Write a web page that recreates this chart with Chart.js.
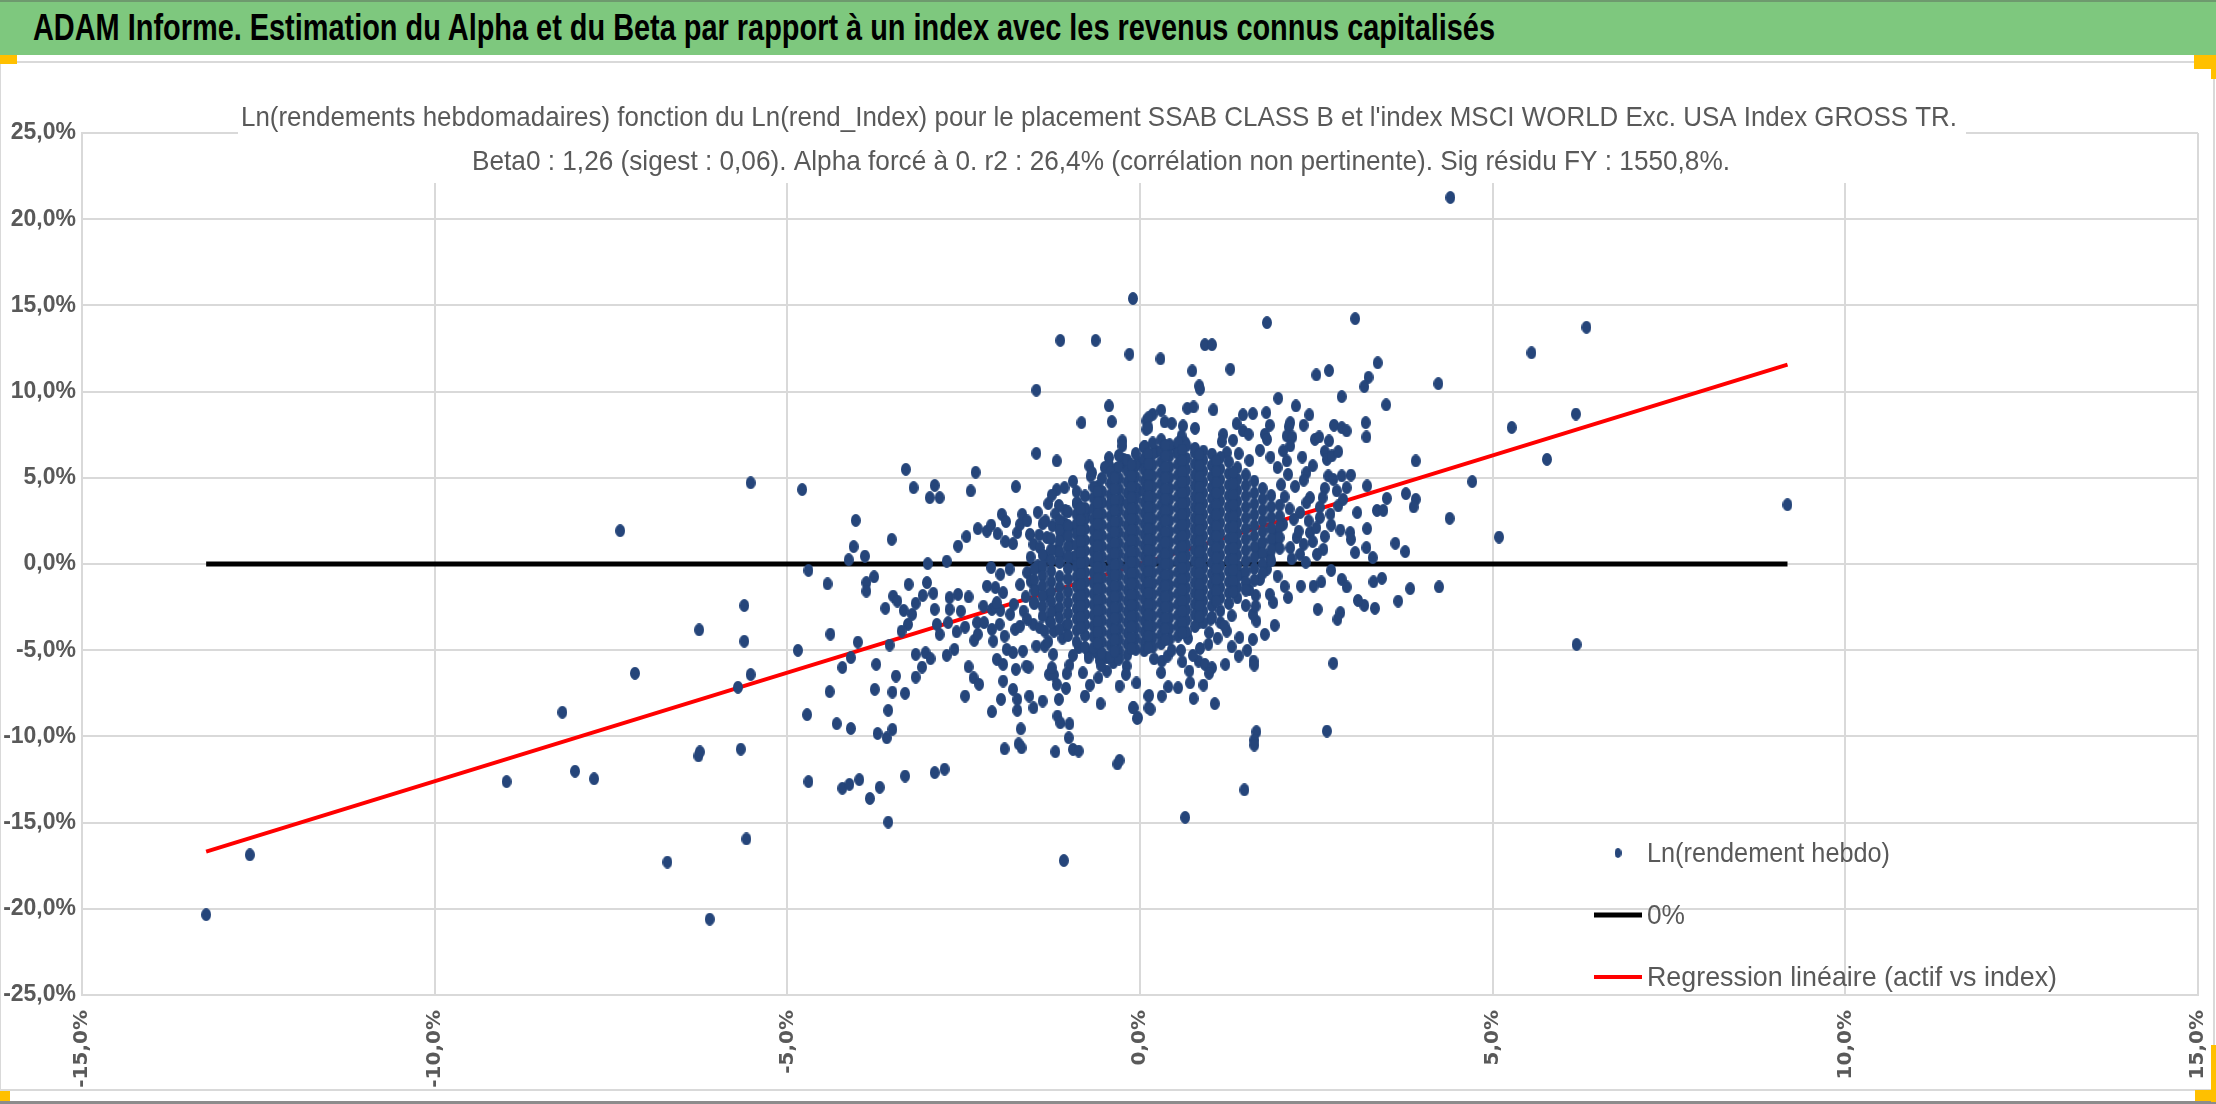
<!DOCTYPE html>
<html lang="fr">
<head>
<meta charset="utf-8">
<title>ADAM Informe - Alpha et Beta</title>
<script src="https://cdn.jsdelivr.net/npm/chart.js@4.4.1/dist/chart.umd.min.js"></script>
<style>
  html, body { margin: 0; padding: 0; background: #fff; }
  body { width: 2216px; height: 1104px; position: relative; overflow: hidden; font-family: "Liberation Sans", Arial, sans-serif; }
  #header { position: absolute; left: 0; top: 0; width: 2216px; height: 55px; background: #7ec87e; border-top: 2px solid #6e9a6e; box-sizing: border-box; white-space: nowrap; }
  #header span { position: absolute; left: 33px; top: 6px; font-weight: bold; font-size: 37px; line-height: 40px; color: #000; transform-origin: 0 50%; }
  #frame { position: absolute; left: 0; top: 61px; width: 2215px; height: 1030px; border: 2px solid #d9d9d9; border-left-width: 1px; box-sizing: border-box; }
  #chartBox { position: absolute; left: 0; top: 62px; width: 2212px; height: 1027px; }
  #bottomLine { position: absolute; left: 0; top: 1101px; width: 2216px; height: 3px; background: #8c8c8c; }
  .mark { position: absolute; background: #ffc000; }
</style>
</head>
<body>
<div id="header"><span id="headerText">ADAM Informe. Estimation du Alpha et du Beta par rapport à un index avec les revenus connus capitalisés</span></div>
<div id="frame"></div>
<div id="chartBox"><canvas id="alphaBetaChart"></canvas></div>
<div id="bottomLine"></div>
<div class="mark" style="left:0;top:55px;width:17px;height:9px"></div>
<div class="mark" style="left:2194px;top:55px;width:22px;height:14px"></div>
<div class="mark" style="left:2211px;top:55px;width:5px;height:24px"></div>
<div class="mark" style="left:0;top:1091px;width:10px;height:10px"></div>
<div class="mark" style="left:2211px;top:1045px;width:5px;height:57px"></div>
<div class="mark" style="left:2195px;top:1090px;width:21px;height:11px"></div>
<script>
// Chart texts
const chartTitleLines = [
    "Ln(rendements hebdomadaires) fonction du Ln(rend_Index) pour le placement SSAB CLASS B et l'index MSCI WORLD Exc. USA Index GROSS TR.",
    'Beta0 : 1,26 (sigest : 0,06). Alpha forcé à 0. r2 : 26,4% (corrélation non pertinente). Sig résidu FY : 1550,8%.'
];
const seriesLabels = ['Ln(rendement hebdo)', '0%', 'Regression linéaire (actif vs index)'];

// Axes (percent)
const xTicks = [-15, -10, -5, 0, 5, 10, 15];
const yTicks = [-25, -20, -15, -10, -5, 0, 5, 10, 15, 20, 25];
const beta0 = 1.26;

// Weekly log returns [index %, asset %]
const leftTail = [
    [-13.24, -20.34], [-12.62, -16.87], [-7.37, 1.93], [-8.19, -8.6], [-8.98, -12.62], [-8.01, -12.02],
    [-7.74, -12.46], [-7.16, -6.34], [-6.70, -17.29], [-6.10, -20.6], [-6.25, -3.82], [-5.61, -2.41],
    [-5.61, -4.48], [-5.52, -6.41], [-5.70, -7.15], [-5.66, -10.74], [-6.26, -11.13], [-6.24, -10.9],
    [-5.58, -15.95], [-5.52, 4.71], [-4.79, 4.32], [-4.03, 2.53], [-4.06, 1.01], [-4.13, 0.25],
    [-4.70, -0.37], [-4.43, -1.15], [-4.39, -4.07], [-4.00, -4.53], [-4.10, -5.43], [-4.85, -5.01],
    [-4.22, -6.0], [-4.40, -7.40], [-4.72, -8.74], [-4.30, -9.26], [-4.10, -9.54], [-4.70, -12.62],
    [-4.22, -13.01], [-4.12, -12.78], [-3.98, -12.51]
];
const lowerTail = [
    [-3.57, -14.97], [-3.83, -13.6], [-3.69, -12.95], [-3.33, -12.3], [-2.91, -12.1], [-2.77, -11.9],
    [-1.08, -17.2], [-0.32, -11.6], [0.64, -14.7], [1.48, -13.1]
];
const upperTail = [
    [4.40, 21.26], [-0.10, 15.4], [1.80, 14.0], [3.05, 14.23], [6.33, 13.73], [-1.13, 12.97], [-0.63, 12.97],
    [0.92, 12.72], [1.02, 12.72], [-0.15, 12.17], [0.29, 11.9], [5.55, 12.25], [0.74, 11.2], [1.28, 11.3],
    [2.5, 10.97], [2.68, 11.22], [3.37, 11.67], [3.24, 10.83]
];
const rightTail = [
    [9.18, 3.44], [6.19, -4.67], [5.77, 6.07], [5.09, 1.56], [6.18, 8.7], [5.27, 7.92]
];
const upperLeftCluster = [
    [-1.47, 10.08], [-0.44, 9.17], [-0.83, 8.2], [-0.40, 8.26], [-0.25, 7.14], [-0.25, 6.85], [0.06, 6.79],
    [0.09, 8.3], [0.09, 7.81], [-1.47, 6.42], [-1.18, 5.98], [-0.72, 5.69], [-0.68, 5.3], [-0.44, 6.17],
    [-0.44, 5.74], [-0.33, 5.55], [-0.23, 6.07], [-0.18, 5.63], [-0.09, 5.59], [-0.02, 5.88], [0.09, 5.55],
    [-3.32, 5.49], [-3.21, 4.43], [-2.91, 4.56], [-2.98, 3.85], [-2.84, 3.85], [-2.40, 4.24], [-2.33, 5.32],
    [-1.76, 4.49], [-1.18, 4.31], [-1.07, 4.43], [-0.60, 4.49], [-3.90, 0.46], [-3.52, 1.43], [-3.01, 0.02],
    [-2.74, 0.17], [-2.58, 1.04], [-2.46, 1.59], [-2.30, 2.05], [-2.17, 1.91], [-2.11, 2.26], [-2.02, 1.76],
    [-1.96, 2.88], [-1.90, 2.46], [-1.91, 1.30], [-1.80, 1.18], [-1.74, 1.82], [-1.70, 2.30], [-1.67, 2.88],
    [-1.56, 1.72], [-1.51, 1.14], [-1.43, 1.68], [-1.38, 2.34], [-1.34, 2.50], [-1.32, 1.53], [-1.24, 2.21],
    [-1.42, 0.95], [-1.35, 0.46], [-1.13, 0.46], [-1.06, 3.11], [-1.08, 2.40], [-1.03, 1.91], [-0.99, 1.14],
    [-0.92, 2.15], [-0.89, 3.56], [-0.84, 3.27], [-0.76, 2.98], [-0.61, 3.17], [-0.56, 3.71], [-0.41, 3.56],
    [-0.28, 3.66], [-0.14, 4.82], [-0.09, 4.43], [-0.02, 4.24], [-0.95, 0.37], [-1.18, 0.8], [-1.12, 1.6],
    [-1.15, 3.4], [-1.20, 2.9]
];
const upperRightCluster = [
    [0.84, 10.33], [0.85, 10.14], [1.96, 9.61], [2.21, 9.17], [2.86, 9.71], [3.18, 10.29], [3.49, 9.23],
    [4.23, 10.46], [0.30, 8.92], [0.18, 8.68], [0.12, 8.49], [0.12, 7.91], [0.35, 8.24], [0.45, 8.16],
    [0.67, 9.03], [0.76, 9.11], [1.04, 8.94], [0.61, 8.01], [0.78, 7.87], [0.59, 7.43], [0.64, 7.04],
    [0.07, 6.79], [0.23, 6.52], [0.40, 6.75], [0.52, 6.65], [0.78, 6.46], [1.46, 8.65], [1.60, 8.72],
    [1.79, 8.78], [1.37, 8.14], [1.46, 7.72], [1.54, 7.52], [1.84, 8.05], [2.13, 8.20], [2.11, 7.97],
    [2.32, 8.05], [2.40, 8.65], [2.75, 8.05], [2.86, 7.91], [2.93, 7.72], [3.20, 8.20], [3.21, 7.37],
    [1.18, 7.52], [1.16, 7.10], [1.32, 7.18], [1.23, 6.46], [1.77, 7.52], [1.80, 7.23], [2.08, 7.43],
    [2.16, 7.37], [2.13, 6.85], [2.03, 6.56], [2.08, 5.98], [2.48, 7.23], [2.54, 7.37], [2.68, 7.14],
    [2.62, 6.52], [2.65, 6.07], [2.72, 6.27], [2.81, 6.52], [3.91, 5.98], [4.71, 4.78], [4.39, 2.65],
    [3.77, 4.08], [3.50, 3.81], [3.91, 3.75], [3.88, 3.31], [3.36, 3.11], [3.45, 3.11], [3.08, 2.98],
    [3.22, 4.53], [2.99, 5.16], [2.86, 5.11], [2.67, 5.11], [2.74, 4.91], [2.62, 4.39], [2.59, 3.85],
    [2.79, 4.24], [2.93, 4.43], [2.81, 3.37], [2.88, 3.75], [2.36, 5.30], [2.32, 4.86], [2.41, 3.85],
    [2.36, 3.56], [2.27, 2.98], [2.39, 2.50], [2.55, 2.69], [2.71, 2.26], [2.84, 1.97], [2.98, 1.82],
    [2.99, 1.43], [3.22, 2.05], [3.62, 1.20], [3.76, 0.72], [3.21, 0.95], [3.05, 0.66], [3.30, 0.37],
    [2.60, 0.85], [2.51, 0.56], [2.41, 1.82], [2.22, 1.53], [2.32, 1.14], [2.27, 0.56], [2.13, 0.95],
    [1.94, 1.14], [1.94, 1.72], [2.03, 2.30], [1.72, 1.14], [1.70, 0.66], [1.84, 0.46]
];
const lowerLeftCluster = [
    [-3.88, -1.08], [-3.88, -1.57], [-3.77, -0.74], [-3.74, -5.82], [-3.76, -7.27], [-3.61, -2.57],
    [-3.50, -1.86], [-3.44, -2.15], [-3.35, -2.69], [-3.28, -1.18], [-3.23, -2.92], [-3.29, -3.50],
    [-3.38, -3.89], [-3.55, -4.70], [-3.46, -6.50], [-3.51, -7.43], [-3.57, -8.49], [-3.33, -7.50],
    [-3.72, -9.83], [-3.59, -10.08], [-3.51, -9.59], [-3.18, -2.28], [-3.08, -1.82], [-3.02, -1.08],
    [-2.93, -1.70], [-2.91, -2.63], [-3.18, -5.24], [-3.04, -5.15], [-2.97, -5.49], [-3.09, -5.98],
    [-3.18, -6.56], [-2.88, -3.50], [-2.84, -4.08], [-2.72, -3.40], [-2.70, -1.95], [-2.58, -1.76],
    [-2.43, -1.91], [-2.70, -2.63], [-2.54, -2.73], [-2.48, -3.66], [-2.60, -3.93], [-2.74, -5.30],
    [-2.63, -4.95], [-2.43, -5.96], [-2.36, -6.60], [-2.28, -6.98], [-2.48, -7.66], [-2.35, -4.43],
    [-2.30, -4.08], [-2.31, -3.40], [-2.21, -3.40], [-2.22, -2.44], [-2.10, -2.63], [-2.05, -2.44],
    [-1.98, -2.69], [-2.03, -2.24], [-1.94, -1.66], [-2.05, -1.37], [-2.17, -1.28], [-2.11, -0.21],
    [-1.98, -0.60], [-2.10, -3.79], [-2.08, -4.47], [-1.99, -3.50], [-1.92, -4.18], [-1.89, -4.95],
    [-2.03, -5.53], [-1.94, -5.82], [-1.80, -5.14], [-1.76, -6.11], [-1.94, -6.79], [-1.80, -7.27],
    [-1.97, -7.85], [-1.74, -7.85], [-1.74, -8.49], [-2.10, -8.57], [-1.69, -9.56], [-1.92, -10.72],
    [-1.72, -10.43], [-1.68, -10.66], [-1.84, -2.92], [-1.77, -3.79], [-1.70, -3.60], [-1.65, -2.73],
    [-1.79, -2.34], [-1.66, -5.05], [-1.61, -5.92], [-1.58, -5.98], [-1.57, -7.66], [-1.51, -8.34],
    [-1.38, -7.95], [-1.51, -3.50], [-1.42, -3.70], [-1.35, -4.76], [-1.35, -3.89], [-1.23, -5.24],
    [-1.29, -6.40], [-1.22, -6.44], [-1.18, -6.98], [-1.15, -7.85], [-1.17, -8.82], [-1.13, -9.21],
    [-1.00, -9.27], [-1.01, -10.08], [-0.95, -10.75], [-0.87, -10.85], [-1.20, -10.89], [-1.05, -7.21],
    [-1.00, -5.86], [-1.04, -6.36], [-0.81, -6.31], [-0.71, -7.02], [-0.78, -7.66], [-0.56, -8.10],
    [-0.59, -6.60], [-0.47, -6.21], [-0.73, -5.20], [-0.73, -5.44], [-0.61, -5.15], [-0.57, -5.59],
    [-0.47, -5.44], [-0.38, -5.73], [-0.19, -5.92], [-0.29, -7.08], [-0.09, -8.34], [-0.03, -8.92],
    [-0.29, -11.39], [0.12, -7.66], [0.12, -8.34], [-0.87, -4.86], [-1.25, -6.02], [-1.47, -4.76],
    [-1.60, -0.5], [-1.55, -1.0], [-1.48, -1.5], [-1.40, -0.3], [-1.30, -1.8], [-1.62, -1.9],
    [-1.50, -2.3], [-1.45, -0.1], [-1.28, -3.3], [-1.18, -2.7], [-1.22, -3.9], [-1.10, -4.3], [-1.05, -3.6]
];
const lowerRightCluster = [
    [2.71, -0.37], [2.86, -0.89], [2.93, -1.33], [3.31, -1.03], [3.43, -0.83], [3.83, -1.43], [4.24, -1.33],
    [3.66, -2.15], [3.33, -2.57], [3.18, -2.40], [3.09, -2.11], [2.52, -2.63], [2.84, -2.82], [2.80, -3.21],
    [2.46, -1.28], [2.57, -1.04], [2.28, -1.28], [2.10, -1.95], [1.91, -3.56], [1.77, -4.08], [1.60, -4.37],
    [1.65, -3.31], [1.60, -2.92], [1.64, -2.44], [1.64, -1.82], [1.84, -1.76], [1.89, -2.24], [1.41, -4.27],
    [1.23, -3.89], [1.14, -3.40], [0.98, -3.98], [0.97, -4.66], [0.68, -4.31], [0.84, -3.37], [0.58, -5.01],
    [0.31, -5.63], [0.39, -5.34], [0.60, -5.67], [0.83, -5.63], [0.92, -5.82], [1.02, -6.02], [0.98, -6.34],
    [1.21, -5.82], [1.40, -5.34], [1.52, -5.01], [1.61, -5.63], [1.62, -5.86], [0.70, -6.21], [0.71, -6.89],
    [0.90, -7.02], [0.54, -7.18], [0.40, -7.12], [0.31, -7.66], [0.13, -7.62], [0.76, -7.80], [1.06, -8.10],
    [0.15, -8.43], [-0.04, -8.96], [-0.10, -8.34], [2.74, -5.76], [1.65, -9.73], [1.62, -10.21], [1.62, -10.50],
    [2.65, -9.69], [1.45, -0.6], [1.55, -1.5], [1.70, -0.9], [1.80, -0.3], [1.95, -0.7], [2.05, -1.3],
    [1.50, -2.4], [1.30, -3.0], [1.20, -3.6], [1.00, -3.2], [0.85, -4.9], [0.60, -3.9]
];
// Points around the edge of the dense centre
const coreFringe = [
    [2.05, 3.9], [2.12, 3.2], [2.18, 2.6], [2.25, 1.9], [2.15, 0.3], [2.35, 0.1], [2.45, 1.3], [2.50, 2.1],
    [2.62, 1.6], [2.70, 2.9], [2.55, 3.3], [2.20, 4.5], [2.10, 5.2], [1.95, 5.6], [1.85, 6.2], [1.70, 6.6],
    [1.55, 6.0], [1.40, 6.4], [2.00, 4.6], [2.30, 6.2], [2.45, 5.7], [-0.95, -5.3], [-0.55, -5.9],
    [-0.20, -6.4], [0.20, -5.5], [0.45, -5.0], [0.30, -6.3], [-0.05, -6.9], [1.10, -4.3], [1.30, -4.8],
    [0.75, -5.3], [-1.30, -4.5], [-1.60, -3.2], [-1.70, -1.2], [-1.85, -0.3], [-1.30, 3.5], [-1.25, 4.0],
    [-0.90, 4.2], [-0.70, 5.1], [-0.95, 4.8], [-0.50, 5.6], [-0.30, 6.3], [-1.45, 3.0], [-1.60, 2.5],
    [-1.55, 0.4]
];
// Dense centre of the cloud, column by column: [index %, [asset % ...]]
const coreColumns = [
    [-1.50, [-0.31, -0.93, -1.55, -2.21]],
    [-1.38, [0.52, -0.12, -0.71, -1.27, -1.88, -2.46, -3.02]],
    [-1.26, [1.46, 0.83, 0.21, -0.42, -1.03, -1.61, -2.18, -2.79, -3.41]],
    [-1.14, [2.52, 1.95, 1.31, 0.72, 0.09, -0.73, -1.34, -1.92, -2.53, -3.12, -3.77]],
    [-1.02, [3.02, 2.23, 1.62, 0.98, 0.41, -0.27, -0.88, -1.62, -2.24, -2.87, -3.49, -4.15]],
    [-0.90, [3.51, 2.88, 2.31, 1.72, 1.08, 0.47, -0.15, -0.74, -1.31, -1.97, -2.58, -3.18, -3.84, -4.52]],
    [-0.78, [3.95, 3.24, 2.61, 2.02, 1.38, 0.77, 0.14, -0.47, -1.05, -1.68, -2.29, -2.93, -3.52, -4.14, -4.83]],
    [-0.66, [4.46, 3.83, 3.22, 2.59, 1.97, 1.36, 0.73, 0.12, -0.51, -1.12, -1.74, -2.36, -2.97, -3.59, -4.21, -4.86]],
    [-0.54, [4.97, 4.21, 3.55, 2.91, 2.28, 1.66, 1.04, 0.43, -0.19, -0.82, -1.43, -2.05, -2.67, -3.28, -3.91, -4.53, -5.16]],
    [-0.42, [5.31, 4.68, 4.02, 3.41, 2.77, 2.15, 1.52, 0.91, 0.28, -0.35, -0.96, -1.58, -2.21, -2.83, -3.44, -4.07, -4.71, -5.38]],
    [-0.30, [5.62, 4.97, 4.36, 3.72, 3.11, 2.46, 1.84, 1.22, 0.61, -0.02, -0.64, -1.27, -1.89, -2.51, -3.13, -3.76, -4.38, -5.01, -5.52]],
    [-0.18, [6.03, 5.38, 4.75, 4.12, 3.49, 2.86, 2.24, 1.62, 0.99, 0.37, -0.26, -0.88, -1.51, -2.13, -2.76, -3.38, -4.01, -4.63, -5.27]],
    [-0.06, [6.41, 5.72, 5.06, 4.43, 3.81, 3.18, 2.56, 1.93, 1.31, 0.68, 0.06, -0.57, -1.19, -1.82, -2.44, -3.07, -3.69, -4.32, -4.95]],
    [0.06, [6.78, 6.12, 5.47, 4.83, 4.21, 3.58, 2.95, 2.33, 1.71, 1.08, 0.45, -0.17, -0.79, -1.42, -2.04, -2.67, -3.29, -3.92, -4.54, -5.03]],
    [0.18, [7.02, 6.38, 5.74, 5.11, 4.49, 3.86, 3.24, 2.61, 1.99, 1.37, 0.74, 0.12, -0.51, -1.13, -1.76, -2.38, -3.01, -3.63, -4.26, -4.81]],
    [0.30, [7.21, 6.57, 5.93, 5.28, 4.66, 4.03, 3.41, 2.78, 2.16, 1.53, 0.91, 0.28, -0.34, -0.97, -1.59, -2.22, -2.84, -3.47, -4.09, -4.62]],
    [0.42, [6.92, 6.27, 5.63, 5.01, 4.38, 3.75, 3.13, 2.51, 1.88, 1.26, 0.63, 0.01, -0.62, -1.24, -1.87, -2.49, -3.12, -3.74, -4.37]],
    [0.54, [7.04, 6.41, 5.78, 5.16, 4.53, 3.91, 3.28, 2.66, 2.03, 1.41, 0.78, 0.16, -0.47, -1.09, -1.72, -2.34, -2.97, -3.59, -4.18]],
    [0.66, [6.86, 6.12, 5.49, 4.86, 4.24, 3.61, 2.99, 2.36, 1.74, 1.11, 0.49, -0.14, -0.76, -1.39, -2.01, -2.64, -3.26, -3.93]],
    [0.78, [6.71, 5.81, 5.17, 4.55, 3.92, 3.30, 2.67, 2.05, 1.42, 0.80, 0.17, -0.45, -1.08, -1.70, -2.33, -2.95, -3.62]],
    [0.90, [6.55, 6.02, 5.38, 4.76, 4.13, 3.51, 2.88, 2.26, 1.63, 1.01, 0.38, -0.24, -0.87, -1.49, -2.12, -2.74, -3.41]],
    [1.02, [6.37, 5.71, 5.07, 4.44, 3.82, 3.19, 2.57, 1.94, 1.32, 0.69, 0.07, -0.56, -1.18, -1.81, -2.43, -3.09]],
    [1.14, [6.18, 5.52, 4.89, 4.27, 3.64, 3.02, 2.39, 1.77, 1.14, 0.52, -0.11, -0.73, -1.36, -1.98, -2.71]],
    [1.26, [5.93, 5.24, 4.58, 3.96, 3.33, 2.71, 2.08, 1.46, 0.83, 0.21, -0.42, -1.04, -1.67, -2.29]],
    [1.38, [5.58, 4.91, 4.28, 3.65, 3.03, 2.40, 1.78, 1.15, 0.53, -0.10, -0.72, -1.35, -1.96]],
    [1.50, [5.17, 4.55, 3.93, 3.30, 2.68, 2.05, 1.43, 0.80, 0.18, -0.45, -1.07, -1.51]],
    [1.62, [4.81, 4.12, 3.49, 2.87, 2.24, 1.62, 0.99, 0.37, -0.26, -0.94]],
    [1.74, [4.38, 3.76, 3.13, 2.51, 1.88, 1.26, 0.63, 0.01, -0.52]],
    [1.86, [3.97, 3.32, 2.69, 2.07, 1.44, 0.82, 0.19]],
    [1.98, [3.41, 2.78, 2.16, 1.53, 0.91]]
];
// Second layer of the centre, between the columns above
const coreInterleave = [
    [-0.84, [3.2, 2.55, 1.9, 1.3, 0.65, 0.05, -0.6, -1.2, -1.85, -2.45, -3.1, -3.7]],
    [-0.60, [4.2, 3.55, 2.9, 2.3, 1.65, 1.05, 0.4, -0.2, -0.85, -1.45, -2.1, -2.7, -3.35, -3.95, -4.6]],
    [-0.36, [5.0, 4.35, 3.7, 3.1, 2.45, 1.85, 1.2, 0.6, -0.05, -0.65, -1.3, -1.9, -2.55, -3.15, -3.8, -4.4, -5.05]],
    [-0.12, [5.75, 5.1, 4.45, 3.85, 3.2, 2.6, 1.95, 1.35, 0.7, 0.1, -0.55, -1.15, -1.8, -2.4, -3.05, -3.65, -4.3, -4.9]],
    [0.12, [6.4, 5.8, 5.15, 4.55, 3.9, 3.3, 2.65, 2.05, 1.4, 0.8, 0.15, -0.45, -1.1, -1.7, -2.35, -2.95, -3.6, -4.2, -4.85]],
    [0.36, [6.9, 6.25, 5.6, 5.0, 4.35, 3.75, 3.1, 2.5, 1.85, 1.25, 0.6, 0.0, -0.65, -1.25, -1.9, -2.5, -3.15, -3.75, -4.4]],
    [0.60, [6.6, 6.0, 5.35, 4.75, 4.1, 3.5, 2.85, 2.25, 1.6, 1.0, 0.35, -0.25, -0.9, -1.5, -2.15, -2.75, -3.4, -4.0]],
    [0.84, [6.35, 5.7, 5.05, 4.45, 3.8, 3.2, 2.55, 1.95, 1.3, 0.7, 0.05, -0.55, -1.2, -1.8, -2.45, -3.05]],
    [1.08, [5.95, 5.35, 4.7, 4.1, 3.45, 2.85, 2.2, 1.6, 0.95, 0.35, -0.3, -0.9, -1.55, -2.15]],
    [1.32, [5.3, 4.65, 4.0, 3.4, 2.75, 2.15, 1.5, 0.9, 0.25, -0.35, -1.0, -1.6]]
];

// Colours
const pointColor = '#25457a';
const textGray = '#595959';
const gridGray = '#d9d9d9';

const returnPoints = [
    ...leftTail, ...lowerTail, ...upperTail, ...rightTail,
    ...upperLeftCluster, ...upperRightCluster, ...lowerLeftCluster, ...lowerRightCluster, ...coreFringe,
    ...coreColumns.flatMap(([x, ys]) => ys.map(y => [x, y])),
    ...coreInterleave.flatMap(([x, ys]) => ys.map(y => [x, y]))
].map(([x, y]) => ({ x, y }));

const xMin = Math.min(...returnPoints.map(p => p.x));
const xMax = Math.max(...returnPoints.map(p => p.x));
const zeroLine = [{ x: xMin, y: 0 }, { x: xMax, y: 0 }];
const regressionLine = [{ x: xMin, y: beta0 * xMin }, { x: xMax, y: beta0 * xMax }];

// Squeeze the header text to the width of the original banner
function fitHeader() {
    const span = document.getElementById('headerText');
    const w = span.getBoundingClientRect().width;
    span.style.transform = 'scaleX(' + (1462 / w) + ')';
}

// Slightly tall oval marker, like the stretched Excel picture
function makeDot(w, h, color) {
    const c = document.createElement('canvas');
    c.width = w;
    c.height = h;
    const g = c.getContext('2d');
    g.fillStyle = color;
    g.beginPath();
    g.ellipse(w / 2, h / 2, w / 2, h / 2, 0, 0, Math.PI * 2);
    g.fill();
    return c;
}

function pct(v) {
    return (v < 0 ? '-' : '') + Math.abs(v).toFixed(1).replace('.', ',') + '%';
}

// draw a centred line of text squeezed to a given width (Calibri-like look)
function squeezedText(ctx, text, cx, cy, width) {
    const k = width / ctx.measureText(text).width;
    ctx.save();
    ctx.translate(cx, cy);
    ctx.scale(k, 1);
    ctx.fillText(text, 0, 0);
    ctx.restore();
}

// Title box over the plot top and legend inside the plot, as in Excel
const excelOverlay = {
    id: 'excelOverlay',
    afterDraw(chart) {
        const ctx = chart.ctx;
        ctx.save();
        ctx.fillStyle = '#fff';
        ctx.fillRect(238, 18, 1728, 103);
        ctx.fillStyle = textGray;
        ctx.font = '28px "Liberation Sans", Arial, sans-serif';
        ctx.textAlign = 'center';
        ctx.textBaseline = 'middle';
        squeezedText(ctx, chartTitleLines[0], 1099, 56, 1716);
        squeezedText(ctx, chartTitleLines[1], 1101, 100, 1258);

        // legend
        const lx = 1594, tx = 1647;
        const rows = [791, 853, 915];
        ctx.font = '28px "Liberation Sans", Arial, sans-serif';
        const ds = chart.data.datasets;
        const legendWidths = [243, 38, 410];
        ctx.drawImage(legendDot, 1618 - legendDot.width / 2, rows[0] - legendDot.height / 2);
        ctx.lineWidth = 5;
        ctx.strokeStyle = ds[1].borderColor;
        ctx.beginPath(); ctx.moveTo(lx, rows[1]); ctx.lineTo(lx + 48, rows[1]); ctx.stroke();
        ctx.lineWidth = 4;
        ctx.strokeStyle = ds[2].borderColor;
        ctx.beginPath(); ctx.moveTo(lx, rows[2]); ctx.lineTo(lx + 48, rows[2]); ctx.stroke();
        ctx.fillStyle = textGray;
        ctx.textAlign = 'center';
        ds.forEach((d, i) => squeezedText(ctx, d.label, tx + legendWidths[i] / 2, rows[i] + 1, legendWidths[i]));
        ctx.restore();
    }
};

const dataDot = makeDot(10, 13, pointColor);
const legendDot = makeDot(7, 10, pointColor);

function initializeChart() {
    fitHeader();
    const ctx = document.getElementById('alphaBetaChart');
    new Chart(ctx, {
        type: 'scatter',
        data: {
            datasets: [
                {
                    label: seriesLabels[0],
                    data: returnPoints,
                    pointStyle: dataDot,
                    backgroundColor: pointColor,
                    borderColor: pointColor,
                    order: 0
                },
                {
                    label: seriesLabels[1],
                    data: zeroLine,
                    showLine: true,
                    borderColor: '#000000',
                    borderWidth: 5,
                    pointRadius: 0,
                    order: 2
                },
                {
                    label: seriesLabels[2],
                    data: regressionLine,
                    showLine: true,
                    borderColor: '#ff0000',
                    borderWidth: 4,
                    pointRadius: 0,
                    order: 1
                }
            ]
        },
        options: {
            responsive: true,
            maintainAspectRatio: false,
            animation: false,
            layout: {
                padding: { left: 0, right: 14, top: 71, bottom: 0 }
            },
            plugins: {
                legend: { display: false },
                title: { display: false },
                tooltip: { enabled: false }
            },
            scales: {
                x: {
                    type: 'linear',
                    min: xTicks[0],
                    max: xTicks[xTicks.length - 1],
                    afterBuildTicks: scale => { scale.ticks = xTicks.map(v => ({ value: v })); },
                    afterFit: scale => { scale.height = 94; scale.paddingLeft = 0; scale.paddingRight = 0; },
                    ticks: {
                        callback: v => pct(v),
                        color: textGray,
                        font: { family: 'DejaVu Sans', size: 20, weight: 'bold' },
                        minRotation: 90,
                        maxRotation: 90,
                        autoSkip: false,
                        padding: 15
                    },
                    grid: { color: gridGray, lineWidth: 2, drawTicks: false },
                    border: { color: gridGray, width: 2 }
                },
                y: {
                    type: 'linear',
                    min: yTicks[0],
                    max: yTicks[yTicks.length - 1],
                    afterBuildTicks: scale => { scale.ticks = yTicks.map(v => ({ value: v })); },
                    afterFit: scale => { scale.width = 82; },
                    ticks: {
                        callback: v => pct(v),
                        color: textGray,
                        font: { family: '"Liberation Sans", Arial, sans-serif', size: 23, weight: 'bold' },
                        padding: 6
                    },
                    grid: { color: gridGray, lineWidth: 2, drawTicks: false },
                    border: { color: gridGray, width: 2 }
                }
            }
        },
        plugins: [excelOverlay]
    });
}

initializeChart();
</script>
</body>
</html>
